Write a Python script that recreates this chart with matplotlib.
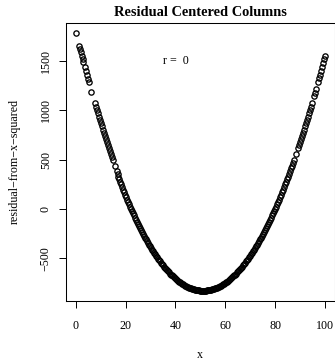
import matplotlib
matplotlib.use("Agg")
import matplotlib.pyplot as plt

# ---- data (x, residual of x^2) ----
x_values = [
    0.0, 1.3, 1.6, 1.9, 2.3, 2.7, 3.0, 3.5, 3.9, 4.4, 4.8, 5.1, 6.2,
    7.5, 7.9, 8.3, 8.7, 9.1, 9.5, 9.9, 10.3, 10.7, 11.1, 11.5, 11.9, 12.3, 12.7,
    13.1, 13.5, 13.9, 14.3, 14.7, 15.5,
    16.3, 16.7, 17.1, 17.5, 17.9, 18.3, 18.7, 19.1, 19.5, 19.9, 20.3, 20.7, 21.1,
    21.5, 21.9, 22.3, 22.7, 23.1, 23.5, 23.9, 24.3, 24.7, 25.1, 25.5, 25.9, 26.3,
    26.7, 27.1, 27.5, 27.9, 28.3, 28.7, 29.1, 29.5, 29.9, 30.3, 30.7, 31.1, 31.5,
    31.9, 32.3, 32.7, 33.1, 33.5, 33.9, 34.3, 34.7, 35.1, 35.5, 35.9, 36.3, 36.7,
    37.1, 37.5, 37.9, 38.3, 38.7, 39.1, 39.5, 39.9, 40.3, 40.7, 41.1, 41.5, 41.9,
    42.3, 42.7, 43.1, 43.5, 43.9, 44.3, 44.7, 45.1, 45.5, 45.9, 46.3, 46.7, 47.1,
    47.5, 47.9, 48.3, 48.7, 49.1, 49.5, 49.9, 50.3, 50.7,
    51.1, 51.5, 51.9, 52.3, 52.7, 53.1, 53.5, 53.9, 54.3, 54.7, 55.1, 55.5, 55.9,
    56.3, 56.7, 57.1, 57.5, 57.9, 58.3, 58.7, 59.1, 59.5, 59.9, 60.3, 60.7, 61.1,
    61.5, 61.9, 62.3, 62.7, 63.1, 63.5, 63.9, 64.3, 64.7, 65.1, 65.5, 65.9, 66.3,
    66.7, 67.1, 67.5, 67.9, 68.3, 68.7, 69.1, 69.5, 69.9, 70.3, 70.7, 71.1, 71.5,
    71.9, 72.3, 72.7, 73.1, 73.5, 73.9, 74.3, 74.7, 75.1, 75.5, 75.9, 76.3, 76.7,
    77.1, 77.5, 77.9, 78.3, 78.7, 79.1, 79.5, 79.9, 80.3, 80.7, 81.1, 81.5, 81.9,
    82.3, 82.7, 83.1, 83.5, 83.9, 84.3, 84.7, 85.1, 85.5, 85.9, 86.3, 86.7, 87.1,
    87.5, 88.3,
    89.1, 89.5, 89.9, 90.3, 90.7, 91.1, 91.5, 91.9, 92.3, 92.7, 93.1, 93.5, 93.9,
    94.3, 94.7, 95.5, 95.9, 96.3,
    97.1, 97.5, 97.9, 98.3, 98.7, 99.1, 99.5, 99.9,
]

y_values = [
    1783, 1652, 1622, 1593, 1553, 1515, 1486, 1438, 1400, 1353, 1316, 1288, 1188,
    1073, 1038, 1004, 970, 936, 903, 869, 837, 804, 772, 740, 709, 677, 647,
    616, 586, 556, 526, 497, 439,
    383, 355, 328, 301, 274, 248, 222, 196, 171, 145, 121, 96, 72,
    48, 25, 1, -21, -44, -66, -88, -110, -131, -152, -173, -193, -213,
    -233, -252, -271, -290, -308, -326, -344, -361, -379, -395, -412, -428, -444,
    -459, -475, -489, -504, -518, -532, -546, -559, -572, -585, -597, -609, -621,
    -632, -643, -654, -664, -674, -684, -693, -703, -711, -720, -728, -736, -743,
    -751, -757, -764, -770, -776, -782, -787, -792, -797, -801, -805, -809, -812,
    -815, -818, -820, -822, -824, -825, -827, -827, -828,
    -828, -828, -827, -827, -825, -824, -822, -820, -818, -815, -812, -809, -805,
    -801, -797, -792, -787, -782, -776, -770, -764, -757, -751, -743, -736, -728,
    -720, -711, -703, -693, -684, -674, -664, -654, -643, -632, -621, -609, -597,
    -585, -572, -559, -546, -532, -518, -504, -489, -475, -459, -444, -428, -412,
    -395, -379, -361, -344, -326, -308, -290, -271, -252, -233, -213, -193, -173,
    -152, -131, -110, -88, -66, -44, -21, 1, 25, 48, 72, 96, 121,
    145, 171, 196, 222, 248, 274, 301, 328, 355, 383, 411, 439, 468,
    497, 556,
    616, 647, 677, 709, 740, 772, 804, 837, 869, 903, 936, 970, 1004,
    1038, 1073, 1143, 1179, 1215,
    1288, 1325, 1362, 1400, 1438, 1476, 1515, 1553,
]

x_ticks = [0, 20, 40, 60, 80, 100]
y_ticks = [-500, 0, 500, 1000, 1500]
title = "Residual Centered Columns"
x_label = "x"
y_label = "residual\u2212from\u2212x\u2212squared"
annotation = "r =  0"
annotation_pos = (40, 1500)

# ---- figure ----
plt.rcParams["font.family"] = ["Liberation Serif", "DejaVu Serif"]
W, H = 335, 360
fig = plt.figure(figsize=(W / 100, H / 100), dpi=100)
left_px, right_px, top_px, bottom_px = 66, 334.5, 22.7, 301
ax = fig.add_axes([left_px / W, 1 - bottom_px / H,
                   (right_px - left_px) / W, (bottom_px - top_px) / H])

ax.plot(x_values, y_values, linestyle="none", marker="o", markersize=3.8,
        markerfacecolor="none", markeredgecolor="black", markeredgewidth=0.95)

xr = max(x_values) - min(x_values)
yr = max(y_values) - min(y_values)
ax.set_xlim(min(x_values) - 0.04 * xr, max(x_values) + 0.04 * xr)
ax.set_ylim(min(y_values) - 0.04 * yr, max(y_values) + 0.04 * yr)

ax.set_xticks(x_ticks)
ax.set_yticks(y_ticks)
ax.set_xticklabels([str(t) for t in x_ticks])
ax.set_yticklabels([str(t).replace("-", "\u2212") for t in y_ticks])
fs = 8.64
ax.tick_params(axis="both", direction="out", length=5.2, width=0.7,
               labelsize=fs, colors="black")
ax.tick_params(axis="x", pad=8.8)
ax.tick_params(axis="y", pad=5.0)
for lab in ax.get_yticklabels():
    lab.set_rotation(90)
    lab.set_va("center")
    lab.set_ha("right")

for s in ax.spines.values():
    s.set_linewidth(0.75)
    s.set_color("black")

ax.set_xlabel(x_label, fontsize=fs)
ax.xaxis.set_label_coords(0.5, (bottom_px - 355) / (bottom_px - top_px))
ax.xaxis.label.set_va("center")
ax.set_ylabel(y_label, fontsize=fs)
ax.yaxis.set_label_coords((15 - left_px) / (right_px - left_px), 0.5)
ax.yaxis.label.set_va("center")
ax.yaxis.label.set_ha("center")

ax.set_title(title, fontsize=10.4, fontweight="bold", pad=0,
             y=(bottom_px - 12.5) / (bottom_px - top_px), va="center")

ax.text(annotation_pos[0], annotation_pos[1], annotation, fontsize=fs,
        ha="center", va="center")

fig.savefig("out.png", dpi=100)
